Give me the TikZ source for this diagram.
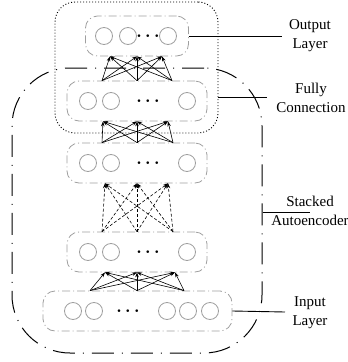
\documentclass[tikz,border=0pt]{standalone}
\usepackage{fontspec}
\setmainfont{Liberation Serif}
\usetikzlibrary{arrows.meta}
\begin{document}
\begin{tikzpicture}[x=1pt, y=-1pt,
    couche/.style={draw=gray!75, line width=0.8pt, dash pattern=on 8pt off 3pt on 1pt off 3pt, rounded corners=12pt, minimum height=40pt},
    neurone/.style={circle, draw=gray!75, line width=0.8pt, minimum size=17pt, inner sep=0pt},
    points/.style={font=\fontsize{17}{19}\selectfont\boldmath},
    lien/.style={-{Stealth[length=5pt,width=3.5pt]}, line width=0.6pt},
    texte/.style={align=center, font=\fontsize{15}{19}\selectfont}]

    \useasboundingbox (0,0) rectangle (348,362);

    % Cadres
    \node[draw, line width=1pt, dash pattern=on 22pt off 8pt on 1pt off 8pt, rounded corners=58pt, minimum width=250pt, minimum height=285pt] (empile) at (137,210.5) {};
    \node[draw, line width=0.9pt, dash pattern=on 1pt off 2pt, rounded corners=20pt, minimum width=163pt, minimum height=131pt] (pleine) at (136.5,67.5) {};

    % Couches
    \node[couche, minimum width=103pt] (sortie) at (137,36) {};
    \node[couche, minimum width=140pt] (cache1) at (137,101) {};
    \node[couche, minimum width=140pt] (cache2) at (137,163) {};
    \node[couche, minimum width=140pt] (cache3) at (137,252) {};
    \node[couche, minimum width=189pt] (entree) at (137.5,311) {};

    % Neurones
    \foreach \x [count=\i] in {104,128,168} \node[neurone] (s\i) at (\x,36) {};
    \node[points] (ps) at (148,36) {$\cdots$};
    \foreach \y/\n in {101/a,163/b,252/c} {
      \foreach \x [count=\i] in {88,111,187} \node[neurone] (\n\i) at (\x,\y) {};
      \node[points] (p\n) at (148,\y) {$\cdots$};
    }
    \foreach \x [count=\i] in {73,94,167,188,210} \node[neurone] (e\i) at (\x,311) {};
    \node[points] (pe) at (128,311) {$\cdots$};

    % Connexions
    \foreach \s in {102,137,172} \foreach \t in {110,137,162}
      \draw[lien] (\s,0 |- cache1.north) -- (\t,0 |- sortie.south);
    \foreach \s in {102,137,173} \foreach \t in {103,137,168}
      \draw[lien] (\s,0 |- cache2.north) -- (\t,0 |- cache1.south);
    \foreach \s in {102,137,173} \foreach \t in {105,137,168}
      \draw[lien, dash pattern=on 3pt off 2pt] (\s,0 |- cache3.north) -- (\t,0 |- cache2.south);
    \foreach \s in {90,137,184} \foreach \t in {105,137,175}
      \draw[lien] (\s,0 |- entree.north) -- (\t,0 |- cache3.south);

    % Etiquettes
    \node[texte] (tsortie) at (310,36) {Output\\Layer};
    \coordinate (fsortie) at (282,36);
    \draw[line width=0.9pt] (sortie.east) -- (fsortie);

    \node[texte] (tpleine) at (311,97.5) {Fully\\Connection};
    \coordinate (fpleine) at (267,97);
    \draw[line width=0.9pt] (pleine.east |- fpleine) -- (fpleine);

    \node[texte] (tempile) at (310,211) {Stacked\\Autoencoder};
    \coordinate (fempile) at (310,212);
    \draw[line width=0.9pt] (empile.east |- fempile) -- (fempile);

    \node[texte] (tentree) at (310,313) {Input\\Layer};
    \coordinate (fentree) at (285,312);
    \draw[line width=0.9pt] (entree.east) -- (fentree);
\end{tikzpicture}
\end{document}
